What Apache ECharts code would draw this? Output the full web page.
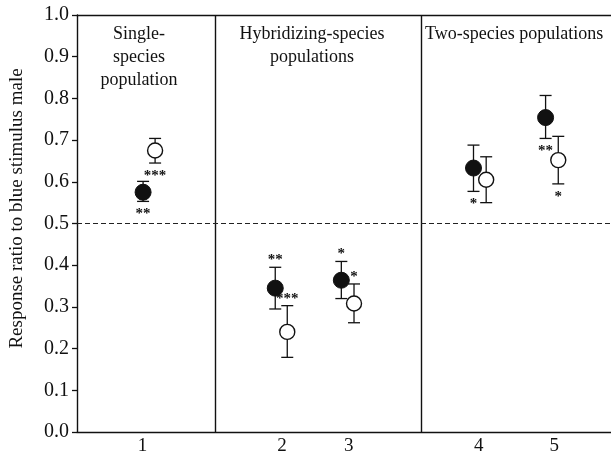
<!DOCTYPE html>
<html>
<head>
<meta charset="utf-8">
<script src="https://cdn.jsdelivr.net/npm/echarts@6/dist/echarts.min.js"></script>
<style>html,body{margin:0;padding:0;background:#fff}#c{width:611px;height:456px}</style>
</head>
<body>
<div id="c"></div>
<script>
// ---- data ----
const groupLabels = ['1', '2', '3', '4', '5'];
const labelPos = [0.98, 3.07, 4.07, 6.02, 7.15];
const filledX = [0.99, 2.97, 3.96, 5.94, 7.02];
const filledMean = [0.575, 0.345, 0.364, 0.633, 0.754];
const filledLow = [0.553, 0.295, 0.320, 0.577, 0.704];
const filledHigh = [0.601, 0.395, 0.409, 0.688, 0.807];
const openX = [1.17, 3.15, 4.15, 6.13, 7.21];
const openMean = [0.675, 0.240, 0.308, 0.605, 0.652];
const openLow = [0.645, 0.179, 0.262, 0.550, 0.595];
const openHigh = [0.704, 0.303, 0.355, 0.660, 0.709];
const filledStars = ['**', '**', '*', '*', '**'];
const filledStarSide = ['below', 'above', 'above', 'below', 'below'];
const openStars = ['***', '***', '*', '', '*'];
const openStarSide = ['below', 'above', 'above', '', 'below'];
const dividers = [2.07, 5.16];
const refLine = 0.5;
const yTicks = ['0.0','0.1','0.2','0.3','0.4','0.5','0.6','0.7','0.8','0.9','1.0'];
const panelTitles = ['Single-\nspecies\npopulation', 'Hybridizing-species\npopulations', 'Two-species populations'];
const yName = 'Response ratio to blue stimulus male';

const FONT = '"Liberation Serif", "Times New Roman", serif';
const INK = '#111';

const chart = echarts.init(document.getElementById('c'), null, {renderer: 'canvas'});

function errSeries(xs, lows, highs) {
  return {
    type: 'custom',
    z: 2,
    silent: true,
    data: xs.map((x, i) => [x, lows[i], highs[i]]),
    renderItem: function (params, api) {
      const x = api.value(0);
      const lo = api.coord([x, api.value(1)]);
      const hi = api.coord([x, api.value(2)]);
      const w = 6;
      const st = {stroke: INK, lineWidth: 1.3};
      return {
        type: 'group',
        children: [
          {type: 'line', shape: {x1: lo[0], y1: lo[1], x2: hi[0], y2: hi[1]}, style: st},
          {type: 'line', shape: {x1: hi[0] - w, y1: hi[1], x2: hi[0] + w, y2: hi[1]}, style: st},
          {type: 'line', shape: {x1: lo[0] - w, y1: lo[1], x2: lo[0] + w, y2: lo[1]}, style: st}
        ]
      };
    }
  };
}

function starSeries(xs, lows, highs, stars, sides) {
  const data = [];
  xs.forEach((x, i) => {
    if (!stars[i]) return;
    const above = sides[i] === 'above';
    data.push({
      value: [x, above ? highs[i] : lows[i]],
      label: {
        show: true,
        formatter: stars[i],
        position: above ? 'top' : 'bottom',
        distance: above ? -1 : 5
      }
    });
  });
  return {
    type: 'scatter',
    symbol: 'circle',
    symbolSize: 1,
    z: 4,
    silent: true,
    itemStyle: {color: 'rgba(0,0,0,0)', opacity: 1},
    data: data,
    label: {color: INK, fontFamily: FONT, fontSize: 15, fontWeight: 'bold', lineHeight: 15}
  };
}

const option = {
  animation: false,
  backgroundColor: '#fff',
  grid: {left: 74, right: 0, top: 15, bottom: 21, containLabel: false},
  xAxis: [{
    type: 'value', min: 0, max: 8, position: 'bottom',
    axisLine: {show: true, onZero: false, lineStyle: {color: INK, width: 1.4}},
    axisTick: {show: false},
    splitLine: {show: false},
    axisLabel: {
      customValues: labelPos,
      formatter: function (v) {
        const i = labelPos.findIndex(p => Math.abs(p - v) < 1e-6);
        return i >= 0 ? groupLabels[i] : '';
      },
      color: INK, fontFamily: FONT, fontSize: 19, margin: 5
    }
  }, {
    type: 'value', min: 0, max: 8, position: 'top',
    axisLine: {show: true, onZero: false, lineStyle: {color: INK, width: 1.4}},
    axisTick: {show: false}, axisLabel: {show: false}, splitLine: {show: false}
  }],
  yAxis: {
    type: 'value', min: 0, max: 1, interval: 0.1,
    name: yName, nameLocation: 'middle', nameGap: 50,
    nameTextStyle: {color: INK, fontFamily: FONT, fontSize: 19, padding: [0, 0, 0, 30]},
    axisLine: {show: true, lineStyle: {color: INK, width: 1.4}},
    axisTick: {show: true, length: 5, lineStyle: {color: INK, width: 1.3}},
    splitLine: {show: false},
    axisLabel: {
      color: INK, fontFamily: FONT, fontSize: 20, margin: 8,
      formatter: function (v) { return yTicks[Math.round(v * 10)]; }
    }
  },
  graphic: [
    {type: 'text', left: 139 - 45, top: 23, style: {text: panelTitles[0], fill: INK, font: '18px ' + FONT, textAlign: 'center', width: 90, lineHeight: 23}},
    {type: 'text', left: 312 - 90, top: 23, style: {text: panelTitles[1], fill: INK, font: '18px ' + FONT, textAlign: 'center', width: 180, lineHeight: 23}},
    {type: 'text', left: 425, top: 23, style: {text: panelTitles[2], fill: INK, font: '18px ' + FONT, lineHeight: 23}}
  ],
  series: [
    {
      type: 'line', data: [], silent: true,
      markLine: {
        symbol: 'none', silent: true, label: {show: false},
        data: dividers.map(d => ({xAxis: d, lineStyle: {type: 'solid', color: INK, width: 1.4}}))
          .concat([{yAxis: refLine, lineStyle: {type: [5, 3], color: '#222', width: 1.2}}])
      }
    },
    errSeries(filledX, filledLow, filledHigh),
    errSeries(openX, openLow, openHigh),
    {
      type: 'scatter', z: 3, symbol: 'circle', symbolSize: 16,
      itemStyle: {color: '#111', borderColor: '#111', borderWidth: 1, opacity: 1},
      data: filledX.map((x, i) => [x, filledMean[i]])
    },
    {
      type: 'scatter', z: 3, symbol: 'circle', symbolSize: 15,
      itemStyle: {color: '#fff', borderColor: INK, borderWidth: 1.4, opacity: 1},
      data: openX.map((x, i) => [x, openMean[i]])
    },
    starSeries(filledX, filledLow, filledHigh, filledStars, filledStarSide),
    starSeries(openX, openLow, openHigh, openStars, openStarSide)
  ]
};
chart.setOption(option);
</script>
</body>
</html>
